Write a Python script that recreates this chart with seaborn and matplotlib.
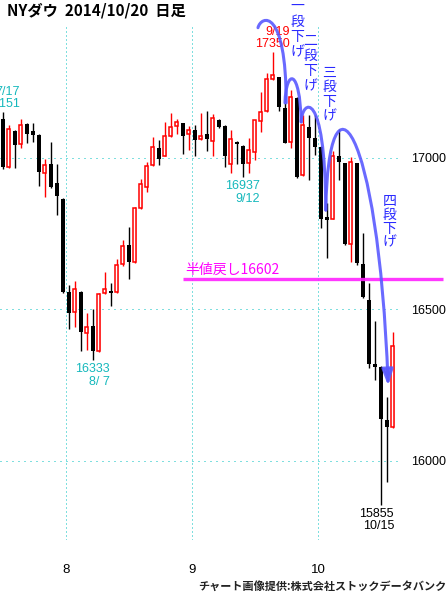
import numpy as np
import pandas as pd

import matplotlib
matplotlib.use('Agg')
import matplotlib.pyplot as plt
from matplotlib.path import Path
from matplotlib.patches import FancyArrowPatch

import seaborn as sns


# daily candles, NY Dow 2014/7/17 - 2014/10/17
dates = ['7/17', '7/18', '7/21', '7/22', '7/23', '7/24', '7/25', '7/28', '7/29', '7/30', '7/31',
         '8/1', '8/4', '8/5', '8/6', '8/7', '8/8', '8/11', '8/12', '8/13', '8/14', '8/15',
         '8/18', '8/19', '8/20', '8/21', '8/22', '8/25', '8/26', '8/27', '8/28', '8/29',
         '9/2', '9/3', '9/4', '9/5', '9/8', '9/9', '9/10', '9/11', '9/12', '9/15', '9/16',
         '9/17', '9/18', '9/19', '9/22', '9/23', '9/24', '9/25', '9/26', '9/29', '9/30',
         '10/1', '10/2', '10/3', '10/6', '10/7', '10/8', '10/9', '10/10', '10/13', '10/14',
         '10/15', '10/16', '10/17']
opens = [17129, 16970, 17089, 17046, 17112, 17089, 17076, 16950, 16980, 16917, 16865,
         16558, 16492, 16558, 16422, 16445, 16363, 16554, 16561, 16558, 16650, 16713,
         16657, 16835, 16904, 16977, 17033, 17007, 17073, 17106, 17115, 17079,
         17092, 17063, 17079, 17056, 17125, 17106, 16980, 17053, 17040, 16983, 17020,
         17122, 17155, 17261, 17267, 17165, 17053, 17198, 16944, 17102, 17066,
         17036, 16805, 16799, 17007, 16983, 16716, 16983, 16650, 16531, 16320,
         16310, 16135, 16112]
highs = [17151, 17109, 17092, 17129, 17115, 17115, 17079, 16997, 17053, 16980, 16868,
         16581, 16594, 16562, 16488, 16502, 16554, 16624, 16587, 16667, 16729, 16772,
         16838, 16931, 16987, 17069, 17059, 17119, 17149, 17129, 17117, 17106,
         17109, 17149, 17155, 17145, 17129, 17108, 17092, 17055, 17042, 17066, 17125,
         17218, 17281, 17350, 17269, 17182, 17224, 17200, 17142, 17142, 17142,
         17038, 16850, 17023, 17096, 16985, 17003, 16985, 16752, 16588, 16462,
         16312, 16211, 16426]
lows = [16964, 16968, 16967, 17033, 17050, 17053, 16908, 16871, 16900, 16812, 16555,
        16436, 16442, 16363, 16366, 16333, 16360, 16552, 16512, 16555, 16644, 16601,
        16655, 16833, 16888, 16975, 16977, 17005, 17069, 17079, 17013, 17026,
        17007, 17061, 17023, 17007, 17100, 16970, 16950, 16980, 16937, 16950, 16993,
        17086, 17153, 17259, 17155, 17048, 17033, 16935, 16942, 16927, 17010,
        16769, 16670, 16797, 16927, 16714, 16657, 16647, 16539, 16307, 16267,
        15855, 15931, 16110]
closes = [16970, 17096, 17043, 17109, 17079, 17076, 16954, 16977, 16904, 16875, 16558,
          16488, 16568, 16426, 16442, 16363, 16551, 16568, 16554, 16647, 16710, 16657,
          16835, 16914, 16974, 17036, 16997, 17073, 17102, 17119, 17073, 17092,
          17059, 17073, 17063, 17132, 17102, 17007, 17063, 17046, 16980, 17026, 17125,
          17152, 17261, 17274, 17168, 17050, 17201, 16937, 17109, 17066, 17036,
          16799, 16795, 17007, 16987, 16716, 16987, 16653, 16541, 16320, 16310,
          16139, 16112, 16380]

month_ticks = [10.5, 31.5, 52.5]
month_labels = ['8', '9', '10']
price_ticks = [16000, 16500, 17000]
half_back = 16602

# (candle date, price, text, colour, above?)
peak_labels = [
    ('7/17', 17151, '7/17\n17151', '#14b8bc', True),
    ('8/7', 16333, '16333\n8/ 7', '#14b8bc', False),
    ('9/12', 16937, '16937\n9/12', '#14b8bc', False),
    ('9/19', 17350, '9/19\n17350', '#ff0000', True),
    ('10/15', 15855, '15855\n10/15', '#000000', False),
]

# falling steps: bezier control points (candle index, price)
step_arcs = [
    [(42.5, 17430), (43.0, 17470), (47.2, 17500), (47.2, 17182)],
    [(47.0, 17182), (47.2, 17297), (49.5, 17297), (49.7, 17119)],
    [(49.7, 17119), (49.8, 17191), (53.7, 17241), (53.8, 16828)],
    [(53.8, 16828), (54.2, 17323), (62.5, 17125), (64.2, 16248)],
]
step_texts = [('一段下げ', 297, 6, 15.5), ('二段下げ', 310, 41, 15.2),
              ('三段下げ', 329.5, 72.5, 14.7), ('四段下げ', 389.5, 201, 13.8)]

W, H = 448, 595
NUM_FONT = ['Liberation Sans', 'DejaVu Sans']
NUM_SIZE = 9
GRID = '#00c0c0'
BLUE_ARC = '#5a5aff'
BLUE_TXT = '#2a2aff'
MAGENTA = '#ff22ff'


def draw_candles(ax, df):
    up = df[df.close >= df.open]
    down = df[df.close < df.open]
    ax.vlines(down.x, down.low, down.high, color='black', lw=1, zorder=2)
    ax.vlines(up.x, up.low, up.high, color='red', lw=1, zorder=2)
    ax.bar(down.x, np.maximum(down.open - down.close, 4), bottom=down.close,
           width=0.68, color='black', lw=0, zorder=3)
    ax.bar(up.x, np.maximum(up.close - up.open, 4), bottom=up.open,
           width=0.5, facecolor='white', edgecolor='#ff0000', lw=1.1, zorder=3)


if __name__ == '__main__':
    df = pd.DataFrame({'date': dates, 'open': opens, 'high': highs,
                       'low': lows, 'close': closes})
    df['x'] = np.arange(len(df))

    sns.set_theme(style='white')
    plt.rcParams['font.family'] = ['Noto Sans CJK JP', 'DejaVu Sans']

    fig = plt.figure(figsize=(W / 100, H / 100), dpi=100)
    fig.patch.set_facecolor('white')
    ax = fig.add_axes([0, 55 / H, 400 / W, 515 / H])
    ax.set_facecolor('white')

    draw_candles(ax, df)

    ax.set_xlim(-0.5, 66.17)
    ax.set_ylim(15739, 17439)
    sns.despine(ax=ax, left=True, bottom=True, right=True, top=True)

    ax.set_xticks(month_ticks, month_labels)
    ax.yaxis.tick_right()
    ax.set_yticks(price_ticks)
    ax.tick_params(axis='x', length=0, pad=17, labelsize=NUM_SIZE + 0.5, colors='black')
    ax.tick_params(axis='y', length=0, pad=8, labelsize=NUM_SIZE, colors='black')
    for lab in ax.get_xticklabels() + ax.get_yticklabels():
        lab.set_family(NUM_FONT)
    ax.set_axisbelow(True)
    ax.xaxis.grid(True, color=GRID, lw=0.72, linestyle=(0, (1, 3)))
    ax.yaxis.grid(True, color=GRID, lw=0.72, linestyle=(0, (1, 5)))

    # highs / lows
    for d, price, text, color, above in peak_labels:
        i = dates.index(d)
        dx = 13 if d == '10/15' else 17
        ax.annotate(text, xy=(i, price), xytext=(dx, 2 if above else -3),
                    textcoords='offset pixels', ha='right',
                    va='bottom' if above else 'top', multialignment='right',
                    color=color, family=NUM_FONT, fontsize=NUM_SIZE, linespacing=1.05,
                    annotation_clip=False)

    # half retracement
    ax.hlines(half_back, 30, 73.3, color=MAGENTA, lw=2.4, alpha=0.9,
              clip_on=False, zorder=4)
    ax.text(30.3, half_back + 6, '半値戻し' + str(half_back), color='#ff00ff',
            fontsize=10, va='bottom', ha='left')

    # step arcs
    codes = [Path.MOVETO, Path.CURVE4, Path.CURVE4, Path.CURVE4]
    for k, pts in enumerate(step_arcs):
        style = '-|>,head_length=0.95,head_width=0.33' if k == 3 else '-'
        arc = FancyArrowPatch(path=Path(pts, codes), arrowstyle=style,
                              mutation_scale=10, color=BLUE_ARC, lw=2.2,
                              alpha=0.9, shrinkA=0, shrinkB=0, clip_on=False,
                              zorder=5)
        ax.add_patch(arc)

    for text, x, y, pitch in step_texts:
        for k, ch in enumerate(text):
            fig.text(x / W, 1 - (y + k * pitch) / H, ch, ha='center', va='center',
                     color=BLUE_TXT, fontsize=10)

    fig.text(7 / W, 1 - 11 / H, 'NYダウ  2014/10/20  日足', ha='left',
             va='center', fontsize=11, fontweight='bold', color='black')
    fig.text(446 / W, 1 - 586 / H, 'チャート画像提供:株式会社ストックデータバンク',
             ha='right', va='center', fontsize=8, fontweight='bold', color='#222222')

    fig.savefig('out.png', dpi=100, facecolor='white')
